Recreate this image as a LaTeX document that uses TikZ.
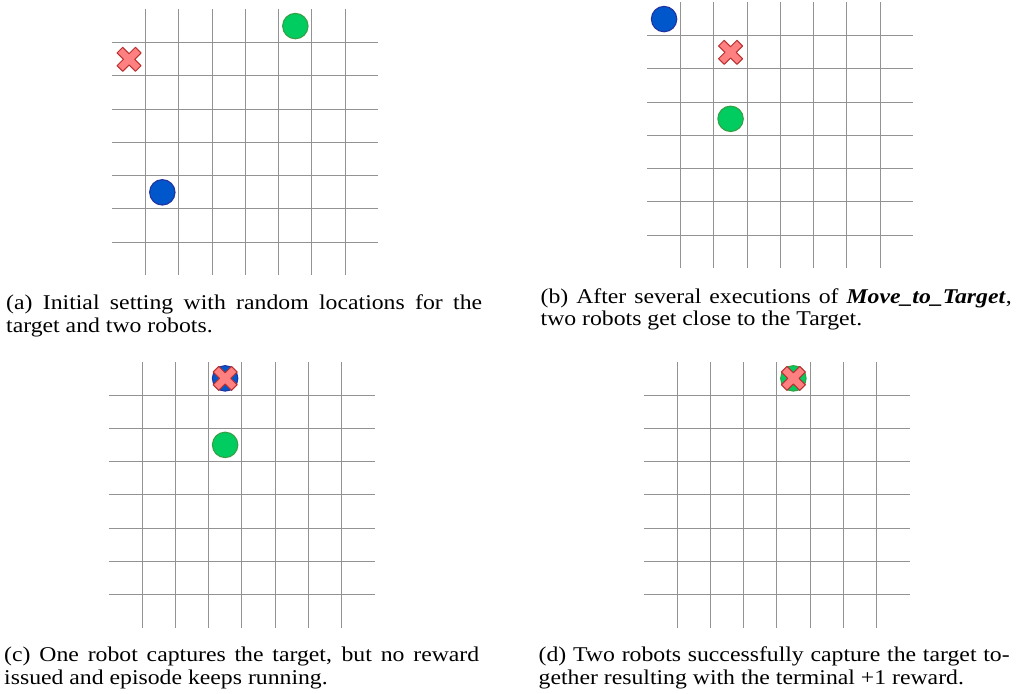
\documentclass[tikz,border=0pt]{standalone}
\usepackage{fontspec}
\setmainfont[FakeStretch=1.13]{Liberation Serif}
\definecolor{gridgray}{HTML}{939393}
\definecolor{gfill}{HTML}{00CC60}
\definecolor{gline}{HTML}{35A045}
\definecolor{bfill}{HTML}{0057CC}
\definecolor{bline}{HTML}{2233A0}
\definecolor{xfill}{HTML}{FF8080}
\definecolor{xline}{HTML}{B83030}
\newcommand\drawgrid[2]{%
  \foreach \k in {1,...,7}{%
    \pgfmathsetmacro\gx{round(#1+\k*33.25-0.5)+0.5}%
    \pgfmathsetmacro\gy{round(#2+\k*33.25-0.5)+0.5}%
    \draw[gridline] (\gx,{#2}) -- (\gx,{#2+266});
    \draw[gridline] ({#1},\gy) -- ({#1+266},\gy);
  }}
\newcommand\drawcross[2]{%
  \begin{scope}[shift={(#1,#2)},rotate=45]
    \draw[crossmark] (4,4) -- (13,4) -- (13,-4) -- (4,-4) -- (4,-13) -- (-4,-13) -- (-4,-4) -- (-13,-4) -- (-13,4) -- (-4,4) -- (-4,13) -- (4,13) -- cycle;
  \end{scope}}
\tikzset{
  gridline/.style={draw=gridgray, line width=1.7pt},
  robot/.style={circle, minimum size=25.4pt, inner sep=0pt, line width=1.1pt},
  greenbot/.style={robot, fill=gfill, draw=gline},
  bluebot/.style={robot, fill=bfill, draw=bline},
  crossmark/.style={fill=xfill, draw=xline, line width=1pt, line join=round},
  caption/.style={anchor=base west, inner sep=0pt, align=justify, font=\fontsize{21}{22.6}\selectfont}
}
\begin{document}
\begin{tikzpicture}[x=1pt, y=-1pt]
\useasboundingbox (0,0) rectangle (1021,694);
% (a)
\drawgrid{112.45}{9.45}
\node[greenbot] (agreen) at ({112.45+5.5*33.25},{9.45+0.5*33.25}) {};
\node[bluebot] (ablue) at ({112.45+1.5*33.25},{9.45+5.5*33.25}) {};
\drawcross{112.45+0.5*33.25}{9.45+1.5*33.25}
\node[caption, text width=476pt] (capa) at (6,309.5) {(a) Initial setting with random locations for the\linebreak target and two robots.};
% (b)
\drawgrid{647.45}{2.45}
\node[bluebot] (bblue) at ({647.45+0.5*33.25},{2.45+0.5*33.25}) {};
\node[greenbot] (bgreen) at ({647.45+2.5*33.25},{2.45+3.5*33.25}) {};
\drawcross{647.45+2.5*33.25}{2.45+1.5*33.25}
\node[caption, text width=471pt] (capb) at (540.5,303) {(b) After several executions of \textbf{\textit{Move\_to\_Target}},\linebreak two robots get close to the Target.};
% (c)
\drawgrid{108.75}{361.75}
\node[bluebot] (cblue) at ({108.75+3.5*33.25},{361.75+0.5*33.25}) {};
\node[greenbot] (cgreen) at ({108.75+3.5*33.25},{361.75+2.5*33.25}) {};
\drawcross{108.75+3.5*33.25}{361.75+0.5*33.25}
\node[caption, text width=475pt] (capc) at (4,661.5) {(c) One robot captures the target, but no reward\linebreak issued and episode keeps running.};
% (d)
\drawgrid{643.75}{361.75}
\node[greenbot] (dgreen) at ({643.75+4.5*33.25},{361.75+0.5*33.25}) {};
\drawcross{643.75+4.5*33.25}{361.75+0.5*33.25}
\node[caption, text width=471pt] (capd) at (538.5,661.5) {(d) Two robots successfully capture the target to-\linebreak gether resulting with the terminal +1 reward.};
\end{tikzpicture}
\end{document}
